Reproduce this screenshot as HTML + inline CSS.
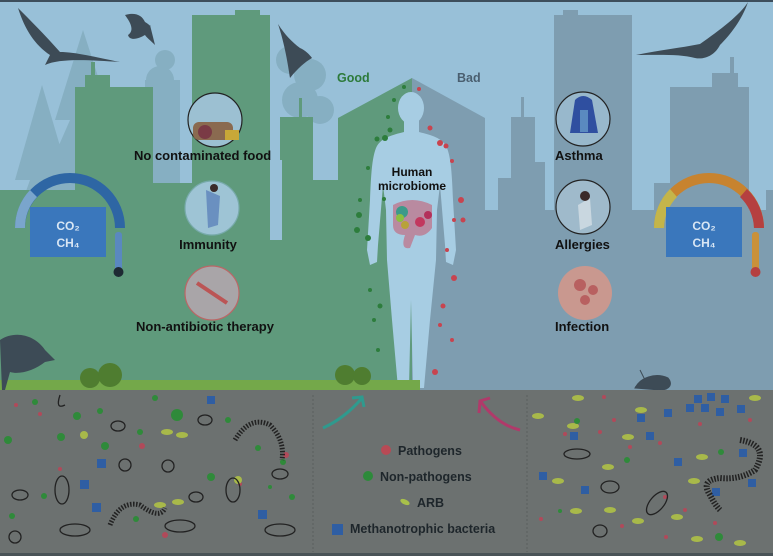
<!DOCTYPE html>
<html><head><meta charset="utf-8"><style>
html,body{margin:0;padding:0;background:#98c0d8;}
svg{display:block;}
text{font-family:"Liberation Sans",sans-serif;font-weight:bold;}
</style></head><body>
<svg width="773" height="556" viewBox="0 0 773 556" xmlns="http://www.w3.org/2000/svg">
<rect width="773" height="556" fill="#98c0d8"/>
<rect width="773" height="2" fill="#3d4e5c"/>
<g fill="#86afc2">
<polygon points="83,30 55,120 70,120 35,200 60,200 20,280 150,280 110,200 125,200 100,120 112,120"/>
<polygon points="42,85 15,180 30,180 5,250 80,250 55,180 70,180"/>
<circle cx="165" cy="60" r="10"/><circle cx="160" cy="80" r="14"/><circle cx="163" cy="105" r="17"/><rect x="145" y="80" width="35" height="120"/>
<circle cx="290" cy="60" r="14"/><circle cx="310" cy="75" r="16"/><circle cx="300" cy="100" r="18"/><circle cx="320" cy="110" r="14"/>
</g>
<g fill="#5f9a7c">
<rect x="0" y="190" width="340" height="200"/>
<rect x="75" y="87" width="78" height="120"/>
<rect x="85" y="75" width="25" height="20"/>
<rect x="91" y="62" width="4" height="20"/>
<rect x="192" y="15" width="78" height="200"/>
<rect x="235" y="10" width="25" height="10"/>
<rect x="280" y="117" width="33" height="100"/>
<rect x="299" y="98" width="3" height="20"/>
<rect x="313" y="180" width="27" height="20"/>
<rect x="153" y="183" width="40" height="20"/>
<polygon points="338,118 412,78 412,390 338,390"/>
</g>
<rect x="270" y="160" width="12" height="80" fill="#98c0d8"/>
<g fill="#7e9db0">
<rect x="485" y="210" width="288" height="180"/>
<rect x="554" y="15" width="78" height="200"/>
<rect x="563" y="10" width="15" height="8"/>
<rect x="511" y="117" width="24" height="100"/>
<rect x="521" y="97" width="3" height="22"/>
<rect x="535" y="162" width="10" height="50"/>
<rect x="498" y="178" width="13" height="40"/>
<rect x="670" y="87" width="79" height="130"/>
<rect x="712" y="73" width="26" height="18"/>
<rect x="730" y="57" width="4" height="20"/>
<rect x="654" y="183" width="16" height="30"/>
<rect x="766" y="190" width="7" height="30"/>
<polygon points="412,78 485,118 485,390 412,390"/>
</g>
<g fill="#3d4b56">
<path d="M18,8 C25,30 35,45 50,55 L45,65 C60,58 90,60 120,62 C95,57 75,52 60,52 C45,35 30,20 18,8Z"/>
<path d="M125,15 C135,12 142,15 145,22 C150,25 152,28 150,25 L155,45 C150,40 147,38 145,35 C140,38 130,42 128,35 C135,30 130,22 125,15Z"/>
<path d="M278,24 C285,35 292,42 300,48 C305,50 310,55 312,58 C305,62 298,68 290,78 C288,65 285,45 278,24Z"/>
<path d="M636,55 C660,50 680,48 700,44 C720,30 740,15 748,2 C742,20 730,35 720,45 C715,55 705,60 695,58 C680,54 660,55 636,55Z"/>
</g>
<g fill="#a7cde3">
<ellipse cx="411" cy="108" rx="13" ry="16"/>
<path d="M404,118 L404,132 C392,135 380,138 376,148 C372,158 371,175 370,200 L367,250 L370,265 L377,262 L378,245 L383,185 L386,210 L387,260 L392,320 L398,388 L409,388 L411,300 L413,388 L424,388 L430,320 L436,260 L437,210 L440,185 L445,245 L446,262 L453,265 L456,250 L453,200 C452,175 451,158 447,148 C443,138 431,135 419,132 L419,118 Z"/>
</g>
<g>
<path d="M393,205 Q412,195 432,205 L432,228 Q425,238 415,235 L410,248 Q400,250 405,235 Q393,235 393,225Z" fill="#b98aa0"/>
<circle cx="402" cy="212" r="6" fill="#3c9a8a"/><circle cx="420" cy="222" r="5" fill="#c2385e"/><circle cx="428" cy="215" r="4" fill="#b3305a"/><circle cx="405" cy="225" r="4" fill="#b8a23a"/><circle cx="400" cy="218" r="4" fill="#8bbf40"/>
</g>
<g fill="#2d7d3c">
<circle cx="404" cy="87" r="2"/><circle cx="394" cy="100" r="2"/><circle cx="388" cy="117" r="2"/><circle cx="390" cy="130" r="2.5"/><circle cx="385" cy="138" r="3"/><circle cx="377" cy="139" r="2.5"/><circle cx="368" cy="168" r="2"/><circle cx="359" cy="215" r="3"/><circle cx="357" cy="230" r="3"/><circle cx="368" cy="238" r="3"/><circle cx="360" cy="200" r="2"/><circle cx="384" cy="199" r="2"/><circle cx="380" cy="306" r="2.5"/><circle cx="378" cy="350" r="2"/><circle cx="374" cy="320" r="2"/><circle cx="370" cy="290" r="2"/>
</g>
<g fill="#c8444f">
<circle cx="419" cy="89" r="2"/><circle cx="430" cy="128" r="2.5"/><circle cx="440" cy="143" r="3"/><circle cx="446" cy="146" r="2.5"/><circle cx="452" cy="161" r="2"/><circle cx="461" cy="200" r="3"/><circle cx="463" cy="220" r="2.5"/><circle cx="454" cy="220" r="2"/><circle cx="454" cy="278" r="3"/><circle cx="443" cy="306" r="2.5"/><circle cx="440" cy="325" r="2"/><circle cx="435" cy="372" r="3"/><circle cx="447" cy="250" r="2"/><circle cx="452" cy="340" r="2"/>
</g>
<rect x="0" y="380" width="420" height="10" fill="#74a84a"/>
<g fill="#4f7d30"><circle cx="90" cy="378" r="10"/><circle cx="110" cy="375" r="12"/><circle cx="345" cy="375" r="10"/><circle cx="362" cy="376" r="9"/></g>
<path d="M0,340 C15,330 35,335 45,350 L55,360 L45,362 C35,370 20,375 10,372 L5,390 L2,390Z" fill="#3d4b56"/>
<path d="M635,388 C640,378 655,372 668,378 C673,384 670,390 660,390Z M640,370 L645,380" fill="#3d4b56" stroke="#3d4b56"/>
<rect x="0" y="390" width="773" height="166" fill="#6c7170"/>
<line x1="313" y1="395" x2="313" y2="552" stroke="#5a5f5e" stroke-dasharray="2,2"/>
<line x1="527" y1="395" x2="527" y2="552" stroke="#5a5f5e" stroke-dasharray="2,2"/>
<rect x="0" y="553" width="773" height="3" fill="#4a5357"/>
<g fill="#2f8a3a">
<circle cx="35" cy="402" r="3"/><circle cx="8" cy="440" r="4"/><circle cx="77" cy="416" r="4"/><circle cx="155" cy="398" r="3"/><circle cx="177" cy="415" r="6"/><circle cx="61" cy="437" r="4"/><circle cx="105" cy="446" r="4"/><circle cx="211" cy="477" r="4"/><circle cx="228" cy="420" r="3"/><circle cx="283" cy="462" r="3"/><circle cx="292" cy="497" r="3"/><circle cx="136" cy="519" r="3"/><circle cx="44" cy="496" r="3"/><circle cx="258" cy="448" r="3"/><circle cx="100" cy="411" r="3"/><circle cx="140" cy="432" r="3"/><circle cx="270" cy="487" r="2"/><circle cx="12" cy="516" r="3"/>
</g>
<g fill="#b04a5a">
<circle cx="16" cy="405" r="2"/><circle cx="40" cy="414" r="2"/><circle cx="142" cy="446" r="3"/><circle cx="165" cy="535" r="3"/><circle cx="60" cy="469" r="2"/><circle cx="286" cy="455" r="3"/><circle cx="240" cy="484" r="2"/>
</g>
<g fill="#a8b94a"><circle cx="84" cy="435" r="4"/><circle cx="238" cy="480" r="4"/><ellipse cx="167" cy="432" rx="6" ry="3"/><ellipse cx="182" cy="435" rx="6" ry="3"/><ellipse cx="160" cy="505" rx="6" ry="3"/><ellipse cx="178" cy="502" rx="6" ry="3"/></g>
<g fill="#2f5ea3"><rect x="97" y="459" width="9" height="9"/><rect x="80" y="480" width="9" height="9"/><rect x="92" y="503" width="9" height="9"/><rect x="207" y="396" width="8" height="8"/><rect x="258" y="510" width="9" height="9"/></g>
<g fill="none" stroke="#222" stroke-width="1.3">
<path d="M60,395 Q55,410 65,405"/>
<path d="M235,440 Q250,415 270,425 Q285,440 282,460" stroke-width="5" stroke-dasharray="1.5,1.5"/>
<path d="M110,525 Q120,500 140,505 Q160,520 165,508" stroke-width="5" stroke-dasharray="1.5,1.5"/>
<ellipse cx="62" cy="490" rx="7" ry="14"/><ellipse cx="233" cy="490" rx="7" ry="12"/>
<ellipse cx="75" cy="530" rx="15" ry="6"/><ellipse cx="180" cy="526" rx="15" ry="6"/><ellipse cx="280" cy="530" rx="15" ry="6"/>
<ellipse cx="20" cy="495" rx="8" ry="5"/><ellipse cx="205" cy="420" rx="7" ry="5"/><ellipse cx="118" cy="426" rx="7" ry="5"/><ellipse cx="196" cy="497" rx="7" ry="5"/>
<ellipse cx="280" cy="474" rx="8" ry="5"/><ellipse cx="15" cy="537" rx="6" ry="6"/><ellipse cx="125" cy="465" rx="6" ry="6"/><ellipse cx="168" cy="466" rx="6" ry="6"/>
</g>
<g fill="#2f5ea3">
<rect x="694" y="395" width="8" height="8"/><rect x="707" y="393" width="8" height="8"/><rect x="721" y="395" width="8" height="8"/><rect x="686" y="404" width="8" height="8"/><rect x="701" y="404" width="8" height="8"/><rect x="716" y="408" width="8" height="8"/><rect x="737" y="405" width="8" height="8"/><rect x="664" y="409" width="8" height="8"/><rect x="637" y="414" width="8" height="8"/><rect x="570" y="432" width="8" height="8"/><rect x="646" y="432" width="8" height="8"/><rect x="674" y="458" width="8" height="8"/><rect x="739" y="449" width="8" height="8"/><rect x="748" y="479" width="8" height="8"/><rect x="539" y="472" width="8" height="8"/><rect x="581" y="486" width="8" height="8"/><rect x="712" y="488" width="8" height="8"/>
</g>
<g fill="#a8b94a">
<ellipse cx="578" cy="398" rx="6" ry="3"/><ellipse cx="538" cy="416" rx="6" ry="3"/><ellipse cx="641" cy="410" rx="6" ry="3"/><ellipse cx="755" cy="398" rx="6" ry="3"/><ellipse cx="573" cy="426" rx="6" ry="3"/><ellipse cx="628" cy="437" rx="6" ry="3"/><ellipse cx="702" cy="457" rx="6" ry="3"/><ellipse cx="608" cy="467" rx="6" ry="3"/><ellipse cx="558" cy="481" rx="6" ry="3"/><ellipse cx="694" cy="481" rx="6" ry="3"/><ellipse cx="610" cy="510" rx="6" ry="3"/><ellipse cx="677" cy="517" rx="6" ry="3"/><ellipse cx="638" cy="521" rx="6" ry="3"/><ellipse cx="697" cy="539" rx="6" ry="3"/><ellipse cx="740" cy="543" rx="6" ry="3"/><ellipse cx="576" cy="511" rx="6" ry="3"/>
</g>
<g fill="#b04a5a"><circle cx="604" cy="397" r="2"/><circle cx="614" cy="420" r="2"/><circle cx="600" cy="432" r="2"/><circle cx="565" cy="434" r="2"/><circle cx="630" cy="447" r="2"/><circle cx="660" cy="443" r="2"/><circle cx="700" cy="424" r="2"/><circle cx="750" cy="420" r="2"/><circle cx="665" cy="497" r="2"/><circle cx="685" cy="510" r="2"/><circle cx="622" cy="526" r="2"/><circle cx="666" cy="537" r="2"/><circle cx="541" cy="519" r="2"/><circle cx="715" cy="523" r="2"/></g>
<g fill="#2f8a3a"><circle cx="577" cy="421" r="3"/><circle cx="721" cy="452" r="3"/><circle cx="719" cy="537" r="4"/><circle cx="627" cy="460" r="3"/><circle cx="560" cy="511" r="2"/></g>
<g fill="none" stroke="#222" stroke-width="1.3">
<path d="M740,440 Q770,445 755,470 Q740,480 720,478 Q700,480 710,495 Q715,505 720,510" stroke-width="6" stroke-dasharray="1.5,1.5"/>
<ellipse cx="577" cy="454" rx="13" ry="5"/><ellipse cx="610" cy="487" rx="9" ry="6"/><ellipse cx="600" cy="531" rx="7" ry="6"/><ellipse cx="657" cy="503" rx="7" ry="14" transform="rotate(40 657 503)"/>
</g>
<path d="M323,428 Q345,418 362,398" fill="none" stroke="#2f9a8e" stroke-width="3"/>
<path d="M352,398 L362,397 L364,407" fill="none" stroke="#2f9a8e" stroke-width="3"/>
<path d="M520,430 Q498,425 481,402" fill="none" stroke="#b03a6a" stroke-width="3"/>
<path d="M479,413 L480,401 L490,398" fill="none" stroke="#b03a6a" stroke-width="3"/>
<circle cx="386" cy="450" r="5" fill="#b84a55"/>
<text x="398" y="455" font-size="12.5" fill="#1e262b">Pathogens</text>
<circle cx="368" cy="476" r="5" fill="#2d8a3a"/>
<text x="380" y="481" font-size="12.5" fill="#1e262b">Non-pathogens</text>
<ellipse cx="405" cy="502" rx="5" ry="2.5" fill="#a8c04a" transform="rotate(25 405 502)"/>
<text x="417" y="507" font-size="12.5" fill="#1e262b">ARB</text>
<rect x="332" y="524" width="11" height="11" fill="#2f5ea3"/>
<text x="350" y="533" font-size="12.5" fill="#1e262b">Methanotrophic bacteria</text>
<path d="M15,228 A55,55 0 0 1 125,228 L115,228 A45,45 0 0 0 25,228Z" fill="#2e66a4"/>
<path d="M15,228 A55,55 0 0 1 30,190 L37,197 A45,45 0 0 0 25,228Z" fill="#7aa5cc"/>
<rect x="30" y="207" width="76" height="50" fill="#3a77bc"/>
<text x="68" y="230" font-size="12" fill="#d8e6f4" text-anchor="middle" font-weight="normal">CO₂</text>
<text x="68" y="247" font-size="12" fill="#d8e6f4" text-anchor="middle" font-weight="normal">CH₄</text>
<rect x="115" y="232" width="7" height="40" rx="3" fill="#5a88c0"/><circle cx="118.5" cy="272" r="5" fill="#1e2a33"/>
<path d="M654,228 A55,55 0 0 1 764,228 L754,228 A45,45 0 0 0 664,228Z" fill="#c7832f"/>
<path d="M654,228 A55,55 0 0 1 670,189 L677,197 A45,45 0 0 0 664,228Z" fill="#c4b54a"/>
<path d="M747,189 A55,55 0 0 1 764,228 L754,228 A45,45 0 0 0 740,197Z" fill="#b54040"/>
<rect x="666" y="207" width="76" height="50" fill="#3a77bc"/>
<text x="704" y="230" font-size="12" fill="#d8e6f4" text-anchor="middle" font-weight="normal">CO₂</text>
<text x="704" y="247" font-size="12" fill="#d8e6f4" text-anchor="middle" font-weight="normal">CH₄</text>
<rect x="752" y="232" width="7" height="40" rx="3" fill="#c9913a"/><circle cx="755.5" cy="272" r="5" fill="#b54040"/>
<g stroke="#222" stroke-width="1.2">
<circle cx="215" cy="120" r="27" fill="#9cc0d2"/>
<circle cx="212" cy="208" r="27" fill="#9ec4d5" stroke="#7aa"/>
<circle cx="212" cy="293" r="27" fill="#a9a5a8" stroke="#b66"/>
<circle cx="583" cy="119" r="27" fill="#98b8cc"/>
<circle cx="583" cy="207" r="27" fill="#9fbacb"/>
<circle cx="585" cy="293" r="27" fill="#c9988f" stroke="none"/>
</g>
<g fill="#8a6a50"><rect x="193" y="122" width="40" height="18" rx="6"/></g>
<circle cx="205" cy="132" r="7" fill="#7a3a45"/><rect x="225" y="130" width="14" height="10" fill="#c8a838"/>
<path d="M206,190 L220,196 L218,225 L208,228Z" fill="#6a90c0"/><circle cx="214" cy="188" r="4" fill="#3a2a2a"/>
<path d="M197,283 L227,303" stroke="#b55" stroke-width="4"/>
<path d="M575,100 Q583,92 592,100 L598,133 L570,133Z" fill="#2f4fa0"/><rect x="580" y="110" width="8" height="22" fill="#5a8ac0"/>
<path d="M578,205 L590,198 L592,225 L580,230Z" fill="#c9d7e0"/><circle cx="585" cy="196" r="5" fill="#3a2a2a"/>
<circle cx="580" cy="285" r="6" fill="#b86060"/><circle cx="593" cy="290" r="5" fill="#b86060"/><circle cx="585" cy="300" r="5" fill="#b86060"/>
<g font-size="13" fill="#111">
<text x="134" y="160">No contaminated food</text>
<text x="208" y="249" text-anchor="middle">Immunity</text>
<text x="136" y="331">Non-antibiotic therapy</text>
<text x="555" y="160">Asthma</text>
<text x="555" y="249">Allergies</text>
<text x="555" y="331">Infection</text>
</g>
<g font-size="12" fill="#111">
<text x="412" y="176" text-anchor="middle">Human</text>
<text x="412" y="190" text-anchor="middle">microbiome</text>
</g>
<text x="337" y="82" font-size="12.5" fill="#2c7a3a">Good</text>
<text x="457" y="82" font-size="12.5" fill="#4a5f70">Bad</text>
</svg>
</body></html>
